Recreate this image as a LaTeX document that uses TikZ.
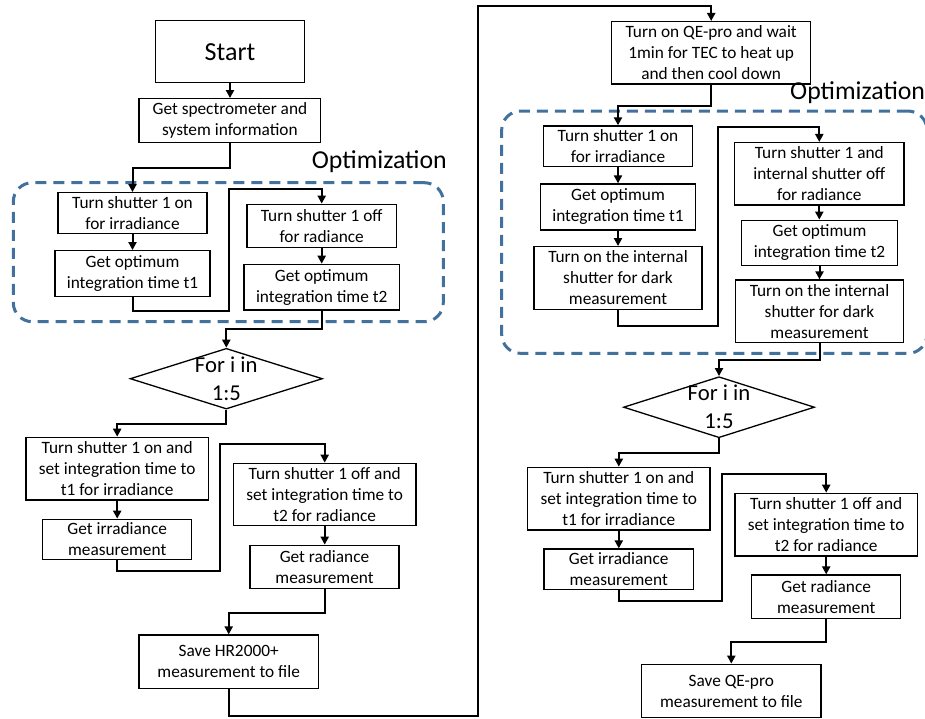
\documentclass[tikz,border=0pt]{standalone}
\usepackage{fontspec}
\setmainfont{Carlito}
\usepackage{xcolor}
\usetikzlibrary{arrows.meta, shapes.geometric}

\definecolor{optblue}{RGB}{65,113,156}

\begin{document}
\begin{tikzpicture}[x=1pt, y=-1pt,
    box/.style={draw, line width=1.3pt, align=center, inner sep=0pt,
                font=\fontsize{17.3}{21}\selectfont},
    loopbox/.style={diamond, draw, line width=1.3pt, inner sep=0pt},
    looptext/.style={align=center, inner sep=0pt, font=\fontsize{22.7}{28}\selectfont},
    optregion/.style={draw=optblue, line width=3pt, rounded corners=19pt,
                      dash pattern=on 11pt off 7pt},
    optlabel/.style={inner sep=0pt, anchor=base west, font=\fontsize{25.8}{30}\selectfont},
    flow/.style={line width=2pt, -{Triangle[length=8pt, width=8pt]}}]
  \useasboundingbox (0,0) rectangle (925,719);

  % left: HR2000+
  \node[box, font=\fontsize{26}{30}\selectfont, minimum width=148.6pt, minimum height=62pt]
       (start) at (230,51.7) {Start};
  \node[box, minimum width=181.7pt, minimum height=44pt]
       (spec) at (229.9,120.7) {Get spectrometer and\\system information};
  \node[optregion, minimum width=430pt, minimum height=139pt] (optreg1) at (228.3,252.2) {};
  \node[optlabel] (optlab1) at (311.7,169) {Optimization};
  \node[box, minimum width=149pt, minimum height=40.6pt]
       (on1) at (132.5,213) {Turn shutter 1 on\\for irradiance};
  \node[box, minimum width=155pt, minimum height=46pt]
       (opta1) at (132.5,273.7) {Get optimum\\integration time t1};
  \node[box, minimum width=149.3pt, minimum height=43.4pt]
       (off1) at (321.7,226) {Turn shutter 1 off\\for radiance};
  \node[box, minimum width=155.3pt, minimum height=45.7pt]
       (optb1) at (321.7,287.2) {Get optimum\\integration time t2};
  \node[loopbox, minimum width=192.3pt, minimum height=60.7pt] (loop1) at (226.3,378.7) {};
  \node[looptext] (loop1t) at (loop1) {For i in\\1:5};
  \node[box, minimum width=182.3pt, minimum height=62.7pt]
       (mon1) at (117.2,468.7) {Turn shutter 1 on and\\set integration time to\\t1 for irradiance};
  \node[box, minimum width=149pt, minimum height=40pt]
       (irr1) at (117.2,539.3) {Get irradiance\\measurement};
  \node[box, minimum width=182.7pt, minimum height=62.4pt]
       (moff1) at (324.7,494.5) {Turn shutter 1 off and\\set integration time to\\t2 for radiance};
  \node[box, minimum width=149pt, minimum height=43pt]
       (rad1) at (324.5,566.8) {Get radiance\\measurement};
  \node[box, minimum width=179.3pt, minimum height=53.3pt]
       (save1) at (228.7,661.7) {Save HR2000+\\measurement to file};

  % right: QE-pro
  \node[box, minimum width=199pt, minimum height=62.3pt]
       (qe) at (711.2,52.8) {Turn on QE-pro and wait\\1min for TEC to heat up\\and then cool down};
  \node[optregion, minimum width=425.3pt, minimum height=242.3pt] (optreg2) at (714.3,232.2) {};
  \node[optlabel] (optlab2) at (790,100) {Optimization};
  \node[box, minimum width=149.4pt, minimum height=40.7pt]
       (on2) at (618,146.3) {Turn shutter 1 on\\for irradiance};
  \node[box, minimum width=155.4pt, minimum height=46pt]
       (opta2) at (618,207) {Get optimum\\integration time t1};
  \node[box, minimum width=168pt, minimum height=62.6pt]
       (dark2a) at (618,278) {Turn on the internal\\shutter for dark\\measurement};
  \node[box, minimum width=169.3pt, minimum height=62.3pt]
       (off2) at (819.3,173.8) {Turn shutter 1 and\\internal shutter off\\for radiance};
  \node[box, minimum width=155.6pt, minimum height=45.4pt]
       (optb2) at (819.5,243) {Get optimum\\integration time t2};
  \node[box, minimum width=167.6pt, minimum height=62.3pt]
       (dark2b) at (819.5,311.2) {Turn on the internal\\shutter for dark\\measurement};
  \node[loopbox, minimum width=191pt, minimum height=61pt] (loop2) at (719,407.2) {};
  \node[looptext] (loop2t) at (loop2) {For i in\\1:5};
  \node[box, minimum width=182.3pt, minimum height=62.7pt]
       (mon2) at (618.8,498.7) {Turn shutter 1 on and\\set integration time to\\t1 for irradiance};
  \node[box, minimum width=149.3pt, minimum height=40.3pt]
       (irr2) at (618.7,569.2) {Get irradiance\\measurement};
  \node[box, minimum width=182.3pt, minimum height=62.7pt]
       (moff2) at (826.2,524.7) {Turn shutter 1 off and\\set integration time to\\t2 for radiance};
  \node[box, minimum width=149pt, minimum height=43.3pt]
       (rad2) at (826.2,596.7) {Get radiance\\measurement};
  \node[box, minimum width=179.3pt, minimum height=53.4pt]
       (save2) at (731.3,691) {Save QE-pro\\measurement to file};

  % connectors, left
  \draw[flow] (start.south) -- (start.south |- spec.north);
  \draw[flow] (spec.south) -- ++(0,24.3) -| (on1.north);
  \draw[flow] (on1.south) -- (on1.south |- opta1.north);
  \draw[flow] (opta1.south) -- ++(0,13.3) -| (229,189) -| (off1.north);
  \draw[flow] (off1.south) -- (off1.south |- optb1.north);
  \draw[flow] (optb1.south) -- ++(0,18) -| (loop1.north);
  \draw[flow] (loop1.south) -- ++(0,14.3) -| (mon1.north);
  \draw[flow] (mon1.south) -- (mon1.south |- irr1.north);
  \draw[flow] (irr1.south) -- ++(0,11.4) -| (220,444) -| (moff1.north);
  \draw[flow] (moff1.south) -- (moff1.south |- rad1.north);
  \draw[flow] (rad1.south) -- ++(0,24) -| (save1.north);
  \draw[flow] (save1.south) -- ++(0,26.7) -| (478.3,6) -| (qe.north);

  % connectors, right
  \draw[flow] (qe.south) -- ++(0,21) -| (on2.north);
  \draw[flow] (on2.south) -- (on2.south |- opta2.north);
  \draw[flow] (opta2.south) -- (opta2.south |- dark2a.north);
  \draw[flow] (dark2a.south) -- ++(0,15.7) -| (718.3,126.7) -| (off2.north);
  \draw[flow] (off2.south) -- (off2.south |- optb2.north);
  \draw[flow] (optb2.south) -- (optb2.south |- dark2b.north);
  \draw[flow] (dark2b.south) -- ++(0,17) -| (loop2.north);
  \draw[flow] (loop2.south) -- ++(0,14.6) -| (mon2.north);
  \draw[flow] (mon2.south) -- (mon2.south |- irr2.north);
  \draw[flow] (irr2.south) -- ++(0,11.4) -| (721.7,474) -| (moff2.north);
  \draw[flow] (moff2.south) -- (moff2.south |- rad2.north);
  \draw[flow] (rad2.south) -- ++(0,23.4) -| (save2.north);
\end{tikzpicture}
\end{document}
